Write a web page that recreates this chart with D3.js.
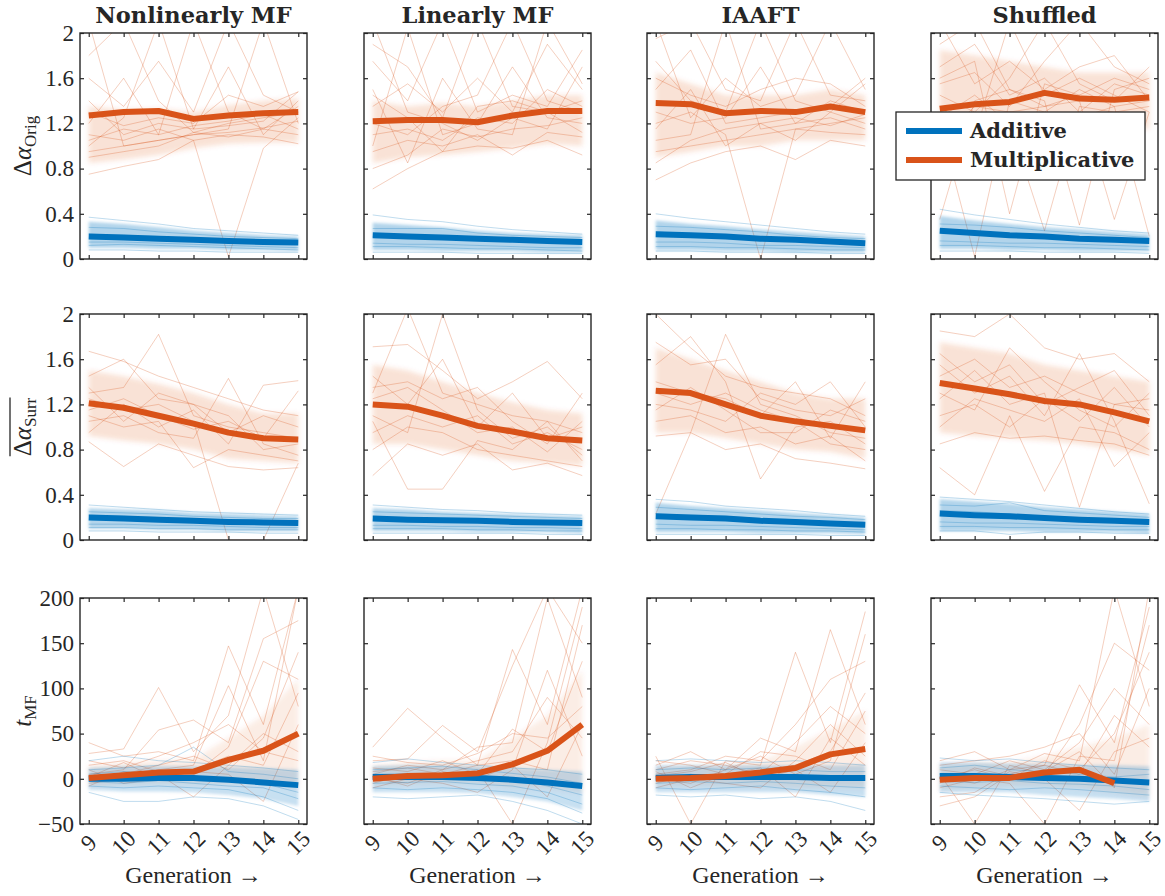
<!DOCTYPE html>
<html><head><meta charset="utf-8">
<script src="https://cdn.jsdelivr.net/npm/d3@7"></script>
<style>
body{margin:0;background:#fff}
svg text{font-family:"Liberation Serif","Times New Roman",serif;fill:#262626}
.bold{font-family:"DejaVu Serif",serif !important;font-weight:bold}
</style>
</head><body><svg id="c" width="1165" height="896"></svg>
<script>
const generations = [9,10,11,12,13,14,15];
const columnTitles = ["Nonlinearly MF","Linearly MF","IAAFT","Shuffled"];
const yTicksAlpha = [0,0.4,0.8,1.2,1.6,2];
const yTicksT = [-50,0,50,100,150,200];
const legendLabels = ["Additive","Multiplicative"];

// ---- Row 1: Delta alpha Orig ----
const meanAddOrig = [
 [0.20,0.19,0.18,0.17,0.16,0.15,0.145],
 [0.21,0.20,0.19,0.18,0.17,0.16,0.15],
 [0.22,0.21,0.20,0.18,0.17,0.155,0.14],
 [0.25,0.23,0.21,0.20,0.18,0.17,0.16]];
const meanMulOrig = [
 [1.27,1.30,1.31,1.24,1.27,1.29,1.30],
 [1.22,1.23,1.23,1.21,1.27,1.31,1.31],
 [1.38,1.37,1.29,1.31,1.30,1.35,1.30],
 [1.33,1.37,1.39,1.47,1.42,1.41,1.43]];
const bandAddOrig = [
 [[0.10,0.10,0.09,0.09,0.08,0.08,0.07],[0.33,0.31,0.28,0.25,0.23,0.21,0.20]],
 [[0.08,0.08,0.07,0.07,0.07,0.06,0.06],[0.32,0.30,0.28,0.25,0.23,0.22,0.21]],
 [[0.08,0.08,0.07,0.07,0.06,0.06,0.06],[0.34,0.31,0.29,0.26,0.24,0.22,0.20]],
 [[0.09,0.09,0.08,0.08,0.07,0.07,0.07],[0.38,0.34,0.31,0.28,0.26,0.24,0.22]]];
const bandMulOrig = [
 [[0.85,0.88,0.92,0.98,1.02,1.03,1.03],[1.35,1.32,1.33,1.30,1.36,1.40,1.42]],
 [[0.85,0.90,0.92,0.95,0.98,1.02,1.00],[1.40,1.35,1.38,1.35,1.40,1.45,1.45]],
 [[0.90,0.95,1.00,1.00,1.05,1.05,1.05],[1.65,1.55,1.45,1.45,1.45,1.50,1.45]],
 [[1.05,1.05,1.10,1.10,1.15,1.15,1.15],[1.85,1.80,1.75,1.70,1.65,1.65,1.65]]];
const linesAddOrig = [
 [[0.37,0.34,0.31,0.27,0.25,0.23,0.21],[0.08,0.08,0.07,0.07,0.06,0.06,0.06],[0.28,0.27,0.24,0.22,0.20,0.19,0.18],
  [0.15,0.15,0.14,0.13,0.12,0.11,0.10],[0.22,0.21,0.20,0.18,0.17,0.16,0.15],[0.12,0.13,0.12,0.11,0.10,0.09,0.08]],
 [[0.39,0.35,0.33,0.29,0.26,0.24,0.22],[0.06,0.06,0.06,0.05,0.05,0.05,0.05],[0.27,0.27,0.27,0.23,0.21,0.20,0.19],
  [0.14,0.13,0.13,0.12,0.11,0.10,0.10],[0.20,0.19,0.18,0.17,0.16,0.15,0.14],[0.11,0.11,0.10,0.09,0.09,0.08,0.07]],
 [[0.40,0.36,0.33,0.30,0.27,0.24,0.22],[0.07,0.07,0.06,0.06,0.06,0.05,0.05],[0.29,0.28,0.26,0.24,0.21,0.19,0.18],
  [0.15,0.15,0.14,0.12,0.12,0.11,0.10],[0.24,0.22,0.21,0.19,0.18,0.16,0.15],[0.11,0.11,0.10,0.10,0.09,0.08,0.08]],
 [[0.44,0.39,0.35,0.31,0.28,0.25,0.23],[0.07,0.07,0.07,0.06,0.06,0.06,0.05],[0.31,0.30,0.28,0.25,0.23,0.21,0.19],
  [0.16,0.15,0.14,0.14,0.13,0.12,0.11],[0.26,0.24,0.22,0.21,0.19,0.18,0.17],[0.12,0.12,0.11,0.10,0.10,0.09,0.08]]];
const linesMulOrig = [
 [[0.75,0.82,0.88,1.05,1.10,1.08,1.02],[1.80,2.10,1.40,1.12,1.20,1.25,1.30],[1.00,1.25,2.10,1.15,1.18,1.22,1.48],
  [1.10,1.05,1.15,1.05,0.02,0.98,1.25],[1.20,1.60,1.10,2.10,1.30,1.15,1.35],[0.95,1.00,1.05,1.10,1.15,2.10,1.20],
  [1.30,1.18,1.25,1.20,1.45,1.35,1.48],[0.90,0.95,1.00,1.12,1.08,1.15,1.10],[1.40,1.10,1.20,1.15,1.70,1.10,1.40],
  [1.05,1.15,1.10,1.18,1.22,1.28,1.15],[2.10,1.00,1.05,1.10,1.12,1.16,1.22],[1.60,1.35,1.75,1.30,2.10,1.45,1.30]],
 [[0.62,0.80,0.95,1.00,0.98,1.05,0.92],[1.90,1.70,1.25,2.10,1.35,1.30,1.40],[1.00,2.05,1.10,1.20,1.70,1.25,1.20],
  [1.50,0.85,1.60,1.15,1.10,2.10,1.55],[1.75,1.40,2.10,1.30,1.45,1.35,1.85],[0.95,1.05,1.00,1.10,0.92,1.12,1.08],
  [1.20,1.10,1.35,1.45,2.10,1.40,1.30],[1.10,1.15,1.05,1.25,1.20,1.50,1.35],[2.10,1.30,1.20,1.05,1.25,1.15,1.70],
  [0.80,0.92,1.15,1.08,1.15,1.18,1.25],[1.35,1.55,1.30,1.60,1.30,1.90,1.50],[1.45,1.25,0.95,1.35,1.40,1.30,1.12]],
 [[0.70,0.85,0.95,1.00,0.88,1.05,1.00],[1.95,2.10,1.50,1.40,2.10,1.45,1.40],[1.20,1.30,1.10,0.00,1.15,1.20,1.25],
  [2.10,1.25,1.60,1.35,1.45,2.10,1.50],[1.50,1.85,1.20,1.25,1.30,1.35,1.60],[1.05,1.10,2.10,1.15,1.20,1.25,1.15],
  [1.30,1.20,1.25,1.70,1.20,1.40,1.30],[0.95,1.00,1.05,1.10,1.15,1.12,1.10],[1.60,1.45,1.35,1.50,1.60,1.55,1.35],
  [1.15,1.50,1.00,1.20,1.05,1.30,1.20],[1.75,1.40,1.30,2.10,1.40,1.30,1.55],[0.85,1.05,1.15,1.20,1.25,1.18,1.28]],
 [[1.20,0.02,1.40,1.30,1.50,1.35,1.40],[1.60,1.75,0.40,1.55,1.45,1.60,1.50],[1.90,2.10,1.50,1.40,0.30,1.50,1.60],
  [1.10,1.20,1.30,1.35,1.40,0.35,1.30],[1.45,1.30,1.60,2.10,1.55,1.40,1.70],[2.10,1.55,1.75,1.50,1.70,1.80,1.40],
  [1.25,1.45,1.20,0.25,1.35,1.30,1.35],[1.70,1.90,1.45,1.60,1.30,1.55,1.45],[1.35,1.10,2.10,1.45,1.60,1.45,1.30],
  [1.05,1.35,1.30,1.25,1.25,1.35,0.20],[1.55,1.65,1.35,1.75,2.10,1.70,1.55],[0.35,1.40,1.50,1.35,1.45,1.40,1.45]]];

// ---- Row 2: mean Delta alpha Surr ----
const meanAddSurr = [
 [0.20,0.19,0.18,0.17,0.16,0.155,0.15],
 [0.19,0.18,0.175,0.17,0.16,0.155,0.15],
 [0.21,0.20,0.19,0.17,0.16,0.145,0.135],
 [0.235,0.22,0.21,0.195,0.18,0.17,0.16]];
const meanMulSurr = [
 [1.21,1.17,1.10,1.03,0.95,0.90,0.89],
 [1.20,1.18,1.10,1.01,0.96,0.90,0.88],
 [1.32,1.30,1.20,1.10,1.05,1.01,0.97],
 [1.39,1.34,1.29,1.23,1.20,1.13,1.05]];
const bandAddSurr = [
 [[0.10,0.10,0.09,0.09,0.08,0.08,0.08],[0.28,0.27,0.26,0.24,0.23,0.22,0.21]],
 [[0.08,0.08,0.08,0.07,0.07,0.07,0.06],[0.28,0.27,0.25,0.24,0.23,0.22,0.21]],
 [[0.07,0.07,0.07,0.06,0.06,0.06,0.05],[0.33,0.30,0.28,0.26,0.24,0.22,0.20]],
 [[0.08,0.08,0.08,0.07,0.07,0.07,0.06],[0.36,0.34,0.32,0.29,0.27,0.25,0.23]]];
const bandMulSurr = [
 [[0.92,0.88,0.85,0.80,0.72,0.70,0.68],[1.50,1.45,1.38,1.30,1.20,1.12,1.12]],
 [[0.85,0.85,0.80,0.75,0.70,0.68,0.66],[1.55,1.50,1.40,1.30,1.22,1.15,1.12]],
 [[0.95,0.95,0.90,0.85,0.80,0.78,0.72],[1.70,1.60,1.50,1.40,1.30,1.25,1.25]],
 [[0.95,0.92,0.90,0.88,0.85,0.80,0.75],[1.75,1.70,1.65,1.55,1.50,1.45,1.40]]];
const linesAddSurr = [
 [[0.31,0.29,0.27,0.25,0.24,0.23,0.22],[0.08,0.08,0.07,0.07,0.07,0.06,0.06],[0.25,0.24,0.23,0.21,0.20,0.19,0.19],
  [0.14,0.14,0.13,0.13,0.12,0.11,0.11],[0.22,0.21,0.20,0.19,0.17,0.17,0.16],[0.11,0.11,0.10,0.10,0.09,0.09,0.09]],
 [[0.31,0.29,0.27,0.26,0.24,0.23,0.22],[0.06,0.06,0.06,0.06,0.06,0.05,0.05],[0.25,0.24,0.23,0.22,0.21,0.20,0.19],
  [0.13,0.13,0.12,0.12,0.11,0.11,0.10],[0.21,0.20,0.19,0.18,0.17,0.17,0.16],[0.10,0.10,0.10,0.09,0.09,0.08,0.08]],
 [[0.36,0.34,0.30,0.28,0.26,0.23,0.21],[0.05,0.05,0.05,0.05,0.05,0.04,0.04],[0.29,0.27,0.25,0.23,0.21,0.20,0.18],
  [0.14,0.13,0.13,0.12,0.11,0.10,0.09],[0.23,0.22,0.21,0.19,0.18,0.16,0.15],[0.10,0.10,0.09,0.09,0.08,0.08,0.07]],
 [[0.38,0.36,0.34,0.31,0.28,0.25,0.23],[0.08,0.08,0.05,0.07,0.07,0.06,0.06],[0.31,0.30,0.33,0.26,0.24,0.22,0.20],
  [0.16,0.15,0.15,0.14,0.13,0.12,0.12],[0.26,0.25,0.23,0.21,0.20,0.19,0.17],[0.12,0.12,0.11,0.11,0.10,0.09,0.09]]];
const linesMulSurr = [
 [[1.67,1.58,1.45,1.35,1.25,1.15,1.10],[0.87,0.65,0.85,0.75,0.65,0.62,0.64],[1.30,1.35,1.82,1.10,1.00,0.95,0.90],
  [1.05,1.10,0.95,0.90,1.43,0.85,0.75],[1.45,1.60,1.25,1.20,0.95,1.10,1.00],[1.10,1.00,1.05,0.64,0.80,0.75,0.70],
  [1.25,1.15,1.20,1.05,0.00,0.00,0.68],[0.95,1.20,1.00,1.15,0.85,1.37,1.41],[1.15,1.25,1.10,0.98,1.05,0.90,1.32],
  [1.35,1.05,1.30,1.20,1.10,0.80,0.85]],
 [[1.71,1.73,1.50,1.25,1.40,1.58,1.25],[0.57,0.85,0.75,0.85,0.62,0.68,0.57],[1.30,2.05,1.30,1.20,1.10,1.05,0.95],
  [1.05,0.45,0.45,0.88,0.80,1.05,0.70],[1.45,1.20,1.60,1.00,1.30,0.90,1.00],[0.95,1.10,1.00,1.10,0.85,0.95,0.80],
  [1.25,1.35,1.15,0.95,1.00,0.78,1.05],[1.10,0.95,2.00,1.15,0.90,1.00,0.75],[1.35,1.40,1.25,1.35,1.05,0.85,1.30],
  [0.80,1.00,0.95,0.80,0.75,0.70,0.65]],
 [[2.00,1.70,1.45,1.35,1.30,1.25,1.10],[0.92,0.95,0.80,0.85,0.72,0.68,0.63],[0.23,0.95,1.82,1.20,1.10,0.95,0.90],
  [1.55,1.80,1.40,0.54,1.00,1.05,0.85],[1.20,1.15,1.05,1.30,1.20,1.40,1.00],[1.40,1.30,1.25,1.10,1.40,0.90,1.40],
  [1.05,1.10,0.95,1.00,0.85,0.92,0.70],[1.75,1.55,1.60,1.25,1.15,1.10,1.25],[1.15,1.35,1.15,0.95,0.95,1.15,1.05],
  [1.30,1.20,1.30,1.15,1.05,0.85,0.80]],
 [[1.85,1.80,2.00,1.70,1.60,1.65,1.40],[0.64,0.40,1.10,0.43,1.00,0.95,0.80],[1.25,1.50,1.20,1.30,0.29,1.20,1.15],
  [1.55,1.30,1.45,1.10,1.65,1.05,0.32],[1.10,1.20,1.00,1.25,1.05,1.35,1.00],[1.45,1.60,1.35,1.45,1.30,1.20,1.25],
  [0.85,0.95,0.90,0.92,0.88,0.85,0.75],[1.65,1.40,1.55,1.20,1.35,1.50,1.10],[1.30,1.15,1.70,1.40,1.15,1.00,1.30],
  [1.00,1.25,1.15,1.05,1.25,0.65,0.95]]];

// ---- Row 3: t_MF ----
const meanAddT = [
 [0,0,1,1,-1,-4,-7],
 [2,2,2,1,-1,-4,-8],
 [1,2,2,2,2,1,1],
 [3,3,2,1,0,-2,-4]];
const meanMulT = [
 [1,4,7,8,21,31,50],
 [0,3,4,6,16,31,60],
 [0,1,3,7,12,27,33],
 [-1,1,1,7,10,-5,null]];
const bandAddT = [
 [[-12,-14,-14,-15,-18,-22,-30],[12,14,14,14,13,12,10]],
 [[-15,-15,-15,-16,-20,-25,-35],[14,15,15,14,12,10,8]],
 [[-15,-15,-15,-15,-15,-18,-20],[15,15,15,15,15,15,15]],
 [[-15,-15,-15,-18,-20,-22,-25],[18,18,17,16,15,15,14]]];
const bandMulT = [
 [[-8,-6,-5,-5,-5,-5,-10],[15,18,20,22,45,70,110]],
 [[-8,-6,-5,-5,-10,-10,-15],[15,18,20,20,45,70,120]],
 [[-8,-8,-8,-8,-10,-10,-10],[12,15,15,20,35,55,75]],
 [[-12,-10,-8,-8,-10,-15,-20],[15,18,18,25,35,45,60]]];
const linesAddT = [
 [[20,25,20,18,15,12,8],[-15,-25,-25,-20,-22,-30,-45],[10,12,15,35,8,5,0],
  [-8,-10,-8,-10,-12,-20,-35],[5,8,5,3,0,-5,-15],[-3,-5,-2,-5,-8,-10,-22]],
 [[18,22,18,15,12,10,5],[-20,-22,-20,-18,-25,-35,-50],[10,12,14,10,6,2,-5],
  [-10,-12,-10,-12,-15,-22,-38],[5,6,5,3,0,-8,-18],[-5,-4,-3,-6,-8,-15,-28]],
 [[20,22,20,18,20,18,15],[-18,-20,-18,-22,-20,-25,-35],[10,12,10,12,10,8,8],
  [-10,-12,-10,-8,-12,-15,-20],[5,5,3,5,3,2,0],[-5,-3,-5,-3,-5,-8,-10]],
 [[23,20,22,18,15,12,10],[-15,-18,-20,-22,-25,-28,-25],[12,15,10,8,5,2,5],
  [-8,-10,-12,-10,-12,-15,-18],[6,5,5,4,2,0,-5],[-3,-4,-2,-5,-6,-8,-12]]];
const linesMulT = [
 [[40,25,30,20,147,60,210],[28,33,101,30,70,210,80],[5,10,54,65,40,155,175],[-5,0,10,15,103,20,210],
  [15,20,8,5,35,130,110],[0,5,15,25,10,45,140],[10,-5,0,10,25,15,95],[-8,8,5,-20,15,50,30],
  [20,12,25,40,60,30,20],[2,18,0,8,5,-25,60]],
 [[35,78,45,15,143,60,210],[20,22,59,30,125,210,150],[5,15,10,35,40,200,90],[-5,5,0,10,-50,40,190],
  [12,8,20,5,55,30,130],[0,-5,10,20,30,90,45],[8,12,5,15,20,10,170],[-10,0,-5,-15,10,120,25],
  [25,18,15,28,50,45,80],[3,-8,8,0,15,-20,60]],
 [[25,-50,20,15,140,40,185],[15,30,10,45,30,165,60],[5,10,25,20,60,110,130],[-5,5,0,10,15,30,95],
  [10,20,15,5,40,80,50],[0,-5,10,25,5,20,160],[-10,0,-5,-10,20,60,25],[20,15,5,30,25,10,75],
  [3,8,18,0,10,-15,40],[8,-10,5,12,-20,45,15]],
 [[-30,-20,5,15,104,40,190],[20,30,10,28,20,210,80],[5,-50,15,5,60,150,120],[-10,0,-5,-50,25,20,170],
  [10,5,20,10,40,100,60],[0,10,0,20,10,50,140],[-20,-15,8,0,-35,30,45],[15,20,25,35,50,5,100],
  [2,-5,10,15,5,70,35],[-5,12,3,8,30,-10,210]]];

// ---------------- drawing ----------------
const BLUE = "#0072BD", ORANGE = "#D95319", INK = "#262626";
const colX = [80, 364, 647, 931], rowY = [33, 314, 598], PW = 227, PH = 226;

const rowsDef = [
 {domain:[0,2], ticks:yTicksAlpha, fmt:d=>(d===0||d===2)?String(d):d3.format(".1f")(d),
  addMean:meanAddOrig, mulMean:meanMulOrig, addBand:bandAddOrig, mulBand:bandMulOrig, addLines:linesAddOrig, mulLines:linesMulOrig},
 {domain:[0,2], ticks:yTicksAlpha, fmt:d=>(d===0||d===2)?String(d):d3.format(".1f")(d),
  addMean:meanAddSurr, mulMean:meanMulSurr, addBand:bandAddSurr, mulBand:bandMulSurr, addLines:linesAddSurr, mulLines:linesMulSurr},
 {domain:[-50,200], ticks:yTicksT, fmt:d3.format("d"),
  addMean:meanAddT, mulMean:meanMulT, addBand:bandAddT, mulBand:bandMulT, addLines:linesAddT, mulLines:linesMulT}
];

const svg = d3.select("#c");
const defs = svg.append("defs");
defs.append("filter").attr("id", "soft").attr("x", "-10%").attr("y", "-30%").attr("width", "120%").attr("height", "160%")
  .append("feGaussianBlur").attr("stdDeviation", 2.5);
defs.append("filter").attr("id", "softB").attr("x", "-10%").attr("y", "-30%").attr("width", "120%").attr("height", "160%")
  .append("feGaussianBlur").attr("stdDeviation", 1.5);
const x = d3.scaleLinear().domain([8.75, 15.25]).range([0, PW]);

rowsDef.forEach((R, r) => {
  const y = d3.scaleLinear().domain(R.domain).range([PH, 0]);
  const line = d3.line().defined(v => v !== null && v !== undefined)
      .x((v, i) => x(generations[i])).y(v => y(v));
  const area = d3.area().x((d, i) => x(generations[i])).y0(d => y(d[0])).y1(d => y(d[1]));
  columnTitles.forEach((title, c) => {
    const g = svg.append("g").attr("transform", `translate(${colX[c]},${rowY[r]})`);
    const id = `clip${r}${c}`;
    defs.append("clipPath").attr("id", id).append("rect").attr("width", PW).attr("height", PH);
    const plot = g.append("g").attr("clip-path", `url(#${id})`);

    const bandData = (b) => b[0].map((lo, i) => [lo, b[1][i]]);
    // multiplicative spread
    plot.append("path").attr("d", area(bandData(R.mulBand[c]))).attr("fill", ORANGE)
        .attr("fill-opacity", r === 2 ? 0.10 : 0.16).attr("filter", "url(#soft)");
    R.mulLines[c].forEach(L => plot.append("path").attr("d", line(L)).attr("fill", "none")
        .attr("stroke", ORANGE).attr("stroke-opacity", 0.28).attr("stroke-width", 1));
    // additive spread
    plot.append("path").attr("d", area(bandData(R.addBand[c]))).attr("fill", BLUE)
        .attr("fill-opacity", r === 2 ? 0.22 : 0.3).attr("filter", "url(#softB)");
    R.addLines[c].forEach(L => plot.append("path").attr("d", line(L)).attr("fill", "none")
        .attr("stroke", BLUE).attr("stroke-opacity", 0.25).attr("stroke-width", 1));
    // means
    plot.append("path").attr("d", line(R.addMean[c])).attr("fill", "none").attr("stroke", BLUE)
        .attr("stroke-width", 6).attr("stroke-linejoin", "round");
    plot.append("path").attr("d", line(R.mulMean[c])).attr("fill", "none").attr("stroke", ORANGE)
        .attr("stroke-width", 6).attr("stroke-linejoin", "round");

    // axes (inward ticks on all sides)
    const styleAxis = sel => { sel.select(".domain").remove(); sel.selectAll("line").attr("stroke", INK).attr("stroke-width", 1.2); };
    const left = g.append("g").call(d3.axisLeft(y).tickValues(R.ticks).tickSize(-4).tickSizeOuter(0).tickPadding(6).tickFormat(R.fmt));
    styleAxis(left);
    left.selectAll("text").attr("font-size", 23).attr("fill", INK)
        .attr("font-family", '"Liberation Serif",serif').style("display", c === 0 ? null : "none");
    const right = g.append("g").attr("transform", `translate(${PW},0)`)
        .call(d3.axisRight(y).tickValues(R.ticks).tickSize(-4).tickSizeOuter(0).tickFormat(""));
    styleAxis(right);
    const bottom = g.append("g").attr("transform", `translate(0,${PH})`)
        .call(d3.axisBottom(x).tickValues(generations).tickSize(-4).tickSizeOuter(0).tickFormat(""));
    styleAxis(bottom);
    const top = g.append("g").call(d3.axisTop(x).tickValues(generations).tickSize(-4).tickSizeOuter(0).tickFormat(""));
    styleAxis(top);
    g.append("rect").attr("width", PW).attr("height", PH).attr("fill", "none")
        .attr("stroke", INK).attr("stroke-width", 1.4);

    if (r === 0) {
      svg.append("text").attr("class", "bold").attr("x", colX[c] + PW / 2).attr("y", 23)
        .attr("text-anchor", "middle").attr("font-size", 22.5).text(title);
    }
    if (r === 2) {
      generations.forEach(gv => {
        svg.append("text").attr("transform", `translate(${colX[c] + x(gv)},${rowY[r] + PH + 19}) rotate(-45)`)
          .attr("text-anchor", "middle").attr("dominant-baseline", "central").attr("font-size", 23).text(gv);
      });
      svg.append("text").attr("x", colX[c] + PW / 2).attr("y", rowY[r] + PH + 59)
        .attr("text-anchor", "middle").attr("font-size", 24).text("Generation  \u2192");
    }
  });
});

// y labels
function yLabel(r, build, overline) {
  const g = svg.append("g").attr("transform", `translate(31,${rowY[r] + PH / 2}) rotate(-90)`);
  const t = g.append("text").attr("text-anchor", "middle").attr("font-size", 25);
  build(t);
  if (overline) {
    const b = t.node().getBBox();
    g.append("line").attr("x1", b.x).attr("x2", b.x + b.width).attr("y1", b.y + 1).attr("y2", b.y + 1)
      .attr("stroke", INK).attr("stroke-width", 1.3);
  }
}
yLabel(0, t => { t.append("tspan").text("\u0394"); t.append("tspan").attr("font-style", "italic").text("\u03b1");
  t.append("tspan").attr("font-size", 17).attr("dy", 5).text("Orig"); }, false);
yLabel(1, t => { t.append("tspan").text("\u0394"); t.append("tspan").attr("font-style", "italic").text("\u03b1");
  t.append("tspan").attr("font-size", 17).attr("dy", 5).text("Surr"); }, true);
yLabel(2, t => { t.append("tspan").attr("font-style", "italic").text("t");
  t.append("tspan").attr("font-size", 17).attr("dy", 5).text("MF"); }, false);

// legend
const lg = svg.append("g");
lg.append("rect").attr("x", 896).attr("y", 112).attr("width", 249).attr("height", 68)
  .attr("fill", "#fff").attr("stroke", INK).attr("stroke-width", 1.3);
[BLUE, ORANGE].forEach((col, i) => {
  const ly = 131 + i * 29;
  lg.append("line").attr("x1", 906).attr("x2", 962).attr("y1", ly).attr("y2", ly).attr("stroke", col).attr("stroke-width", 6);
  lg.append("text").attr("class", "bold").attr("x", 970).attr("y", ly + 7).attr("font-size", 21).text(legendLabels[i]);
});
</script>
</body></html>
